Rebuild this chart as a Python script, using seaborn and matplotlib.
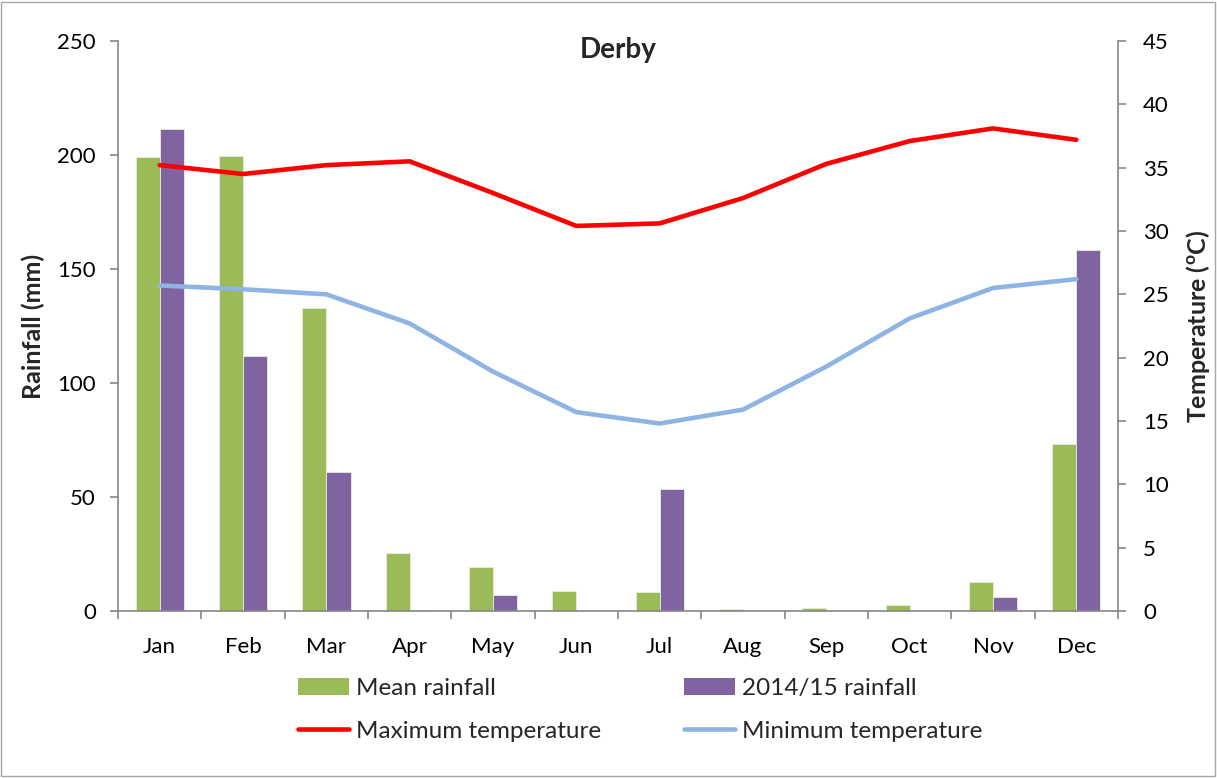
import numpy as np
import pandas as pd
import matplotlib
matplotlib.use("Agg")
import matplotlib.pyplot as plt
from matplotlib.patches import Rectangle, Patch
from matplotlib.lines import Line2D
import seaborn as sns

months = ["Jan", "Feb", "Mar", "Apr", "May", "Jun", "Jul", "Aug", "Sep", "Oct", "Nov", "Dec"]
mean_rain = [199, 199.6, 133, 25.3, 19.5, 8.8, 8.5, 1.0, 1.3, 2.8, 12.7, 73.2]
rain_1415 = [211.4, 112, 60.8, 0.5, 7.0, 0, 53.5, 0, 0, 0, 6.3, 158.5]
max_temp = [35.2, 34.5, 35.2, 35.5, 33.0, 30.4, 30.6, 32.6, 35.3, 37.1, 38.1, 37.2]
min_temp = [25.7, 25.4, 25.0, 22.7, 18.9, 15.7, 14.8, 15.9, 19.3, 23.1, 25.5, 26.2]

rain_labels = ["Mean rainfall", "2014/15 rainfall"]
temp_labels = ["Maximum temperature", "Minimum temperature"]

bar_colors = ["#9BBB59", "#8064A2"]
line_colors = ["#FF0000", "#8EB4E3"]
gray = "#868686"

sns.set_theme(style="white")
plt.rcParams["font.family"] = ["Lato", "DejaVu Sans"]

rain_df = pd.DataFrame({
    "Month": months * 2,
    "Rainfall": mean_rain + rain_1415,
    "Series": [rain_labels[0]] * 12 + [rain_labels[1]] * 12,
})
temp_df = pd.DataFrame({
    "Month": months * 2,
    "Temp": max_temp + min_temp,
    "Series": [temp_labels[0]] * 12 + [temp_labels[1]] * 12,
})

fig = plt.figure(figsize=(12.17, 7.78), dpi=100)
ax = fig.add_axes([118 / 1217, 1 - 611 / 778, 1000 / 1217, 570 / 778])

sns.barplot(data=rain_df, x="Month", y="Rainfall", hue="Series", order=months,
            hue_order=rain_labels, palette=bar_colors, width=0.58, saturation=1,
            ax=ax, legend=False, edgecolor="#E8EEDC", linewidth=0.6)

ax2 = ax.twinx()
sns.lineplot(data=temp_df, x="Month", y="Temp", hue="Series", hue_order=temp_labels,
             palette=line_colors, linewidth=3.3, ax=ax2, legend=False, sort=False)

ax.set_xlim(-0.5, len(months) - 0.5)
ax.set_ylim(0, 250)
ax.set_yticks(np.arange(0, 251, 50))
ax2.set_ylim(0, 45)
ax2.set_yticks(np.arange(0, 46, 5))

for a in (ax, ax2):
    a.spines["top"].set_visible(False)
    for s in ("left", "right", "bottom"):
        a.spines[s].set_color(gray)
        a.spines[s].set_linewidth(1.2)
ax.spines["right"].set_visible(False)
ax2.spines["left"].set_visible(False)
ax2.spines["bottom"].set_visible(False)

ax.set_xticks(np.arange(len(months)))
ax.set_xticklabels(months)
ax.set_xticks(np.arange(-0.5, len(months), 1), minor=True)
ax.tick_params(axis="x", which="major", length=0, pad=19, labelsize=16, colors="black")
ax.tick_params(axis="x", which="minor", length=6, width=1.2, color=gray, direction="out", bottom=True)
ax.tick_params(axis="y", which="major", length=6, width=1.2, color=gray, direction="out",
               pad=10, labelsize=16, labelcolor="black", left=True)
ax2.tick_params(axis="y", which="major", length=6, width=1.2, color=gray, direction="out",
                pad=12, labelsize=16, labelcolor="black", right=True)

ax.set_xlabel("")
ax.set_ylabel("Rainfall (mm)", fontsize=18, fontweight="bold", labelpad=9)
ax2.set_ylabel("Temperature ($\\mathregular{^{o}}$C)", fontsize=18, fontweight="bold", labelpad=11)

ax.text(0.5, 1 - 9 / 570, "Derby", transform=ax.transAxes, ha="center", va="center",
        fontsize=20, fontweight="bold")

handles = [
    Patch(facecolor=bar_colors[0], edgecolor="none"),
    Line2D([], [], color=line_colors[0], linewidth=3.3),
    Patch(facecolor=bar_colors[1], edgecolor="none"),
    Line2D([], [], color=line_colors[1], linewidth=3.3),
]
labels = [rain_labels[0], temp_labels[0], rain_labels[1], temp_labels[1]]
fig.legend(handles, labels, ncol=2, loc="center", bbox_to_anchor=(640 / 1217, 1 - 710 / 778),
           frameon=False, fontsize=17.5, handlelength=2.1, handleheight=0.7, handletextpad=0.3,
           columnspacing=3.4, labelspacing=0.88)

fig.patches.append(Rectangle((0.001, 0.002), 0.997, 0.996, transform=fig.transFigure,
                             fill=False, edgecolor="#A6A6A6", linewidth=1.0))

fig.savefig("out.png", dpi=100)
